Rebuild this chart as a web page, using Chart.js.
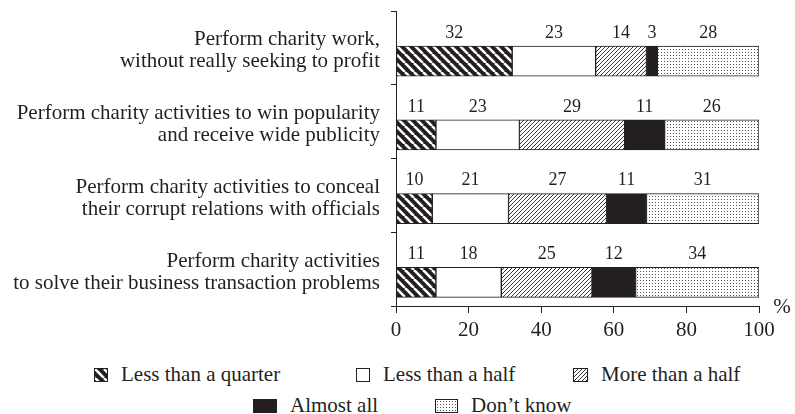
<!DOCTYPE html>
<html>
<head>
<meta charset="utf-8">
<script src="https://cdn.jsdelivr.net/npm/chart.js@4.4.1/dist/chart.umd.min.js"></script>
<style>
  html, body { margin: 0; padding: 0; background: #fff; }
  #wrap { position: relative; width: 795px; height: 414px; overflow: hidden; }
  #chart-box { position: absolute; left: 0; top: 0; width: 795px; height: 350px; }
  .legend__item {
    position: absolute; display: flex; align-items: center; height: 21px; line-height: 21px;
    font: 21px 'Liberation Serif', 'Times New Roman', serif; color: #231f20; white-space: nowrap;
  }
  .legend__item canvas { display: block; border: 1px solid #231f20; margin-right: 13px; }
</style>
</head>
<body>
<div id="wrap">
  <div id="chart-box"><canvas id="chart"></canvas></div>
  <div id="legend"></div>
</div>
<script>
const categories = [
  ['Perform charity work,', 'without really seeking to profit'],
  ['Perform charity activities to win popularity', 'and receive wide publicity'],
  ['Perform charity activities to conceal', 'their corrupt relations with officials'],
  ['Perform charity activities', 'to solve their business transaction problems']
];
const seriesNames = ['Less than a quarter', 'Less than a half', 'More than a half', 'Almost all', 'Don\u2019t know'];
const lessThanQuarter = [32, 11, 10, 11];
const lessThanHalf = [23, 23, 21, 18];
const moreThanHalf = [14, 29, 27, 25];
const almostAll = [3, 11, 11, 12];
const dontKnow = [28, 26, 31, 34];
const xTicks = [0, 20, 40, 60, 80, 100];

const seriesValues = [lessThanQuarter, lessThanHalf, moreThanHalf, almostAll, dontKnow];
const INK = '#231f20';
const FONT = "'Liberation Serif', 'Times New Roman', serif";

// bars sit in the lower part of each band, so the y scale starts a bit above row 0
const firstRow = -0.68;

// small tiles for the black & white fills
const tiles = {
  stripes(g, s) {
    g.fillStyle = INK; g.fillRect(0, 0, s, s);
    g.strokeStyle = '#fff'; g.lineWidth = 2.6;
    for (const o of [-s, 0, s]) { g.beginPath(); g.moveTo(o, 0); g.lineTo(o + s, s); g.stroke(); }
  },
  hatch(g, s) {
    g.fillStyle = '#fff'; g.fillRect(0, 0, s, s);
    g.strokeStyle = INK; g.lineWidth = 0.9;
    for (const o of [-s, 0, s]) { g.beginPath(); g.moveTo(o, s); g.lineTo(o + s, 0); g.stroke(); }
  },
  dots(g, s) {
    g.fillStyle = '#fff'; g.fillRect(0, 0, s, s);
    g.fillStyle = '#555'; g.fillRect(1, 1, 1, 1);
  }
};

function pattern(ctx, size, draw) {
  const c = document.createElement('canvas');
  c.width = size; c.height = size;
  draw(c.getContext('2d'), size);
  return ctx.createPattern(c, 'repeat');
}

const seriesFill = [
  g => pattern(g, 9, tiles.stripes),
  () => '#ffffff',
  g => pattern(g, 4, tiles.hatch),
  () => INK,
  g => pattern(g, 3, tiles.dots)
];

const valueLabels = {
  id: 'valueLabels',
  afterDatasetsDraw(chart) {
    const ctx = chart.ctx;
    ctx.save();
    ctx.font = `18px ${FONT}`;
    ctx.fillStyle = INK;
    ctx.textAlign = 'center';
    ctx.textBaseline = 'middle';
    chart.data.datasets.forEach((ds, d) => {
      chart.getDatasetMeta(d).data.forEach((bar, i) => {
        const { x, y, base, height } = bar.getProps(['x', 'y', 'base', 'height'], true);
        ctx.fillText(String(seriesValues[d][i]), (x + base) / 2, y - height / 2 - 13);
      });
    });
    // unit at the end of the x axis
    const xs = chart.scales.x;
    ctx.font = `21px ${FONT}`;
    ctx.fillText('%', xs.right + 23, xs.top + 1);
    ctx.restore();
  }
};

const canvas = document.getElementById('chart');
const ctx = canvas.getContext('2d');

new Chart(canvas, {
  type: 'bar',
  data: {
    datasets: seriesNames.map((name, s) => ({
      label: name,
      data: seriesValues[s].map((v, i) => ({ x: v, y: i })),
      backgroundColor: seriesFill[s](ctx),
      borderColor: INK,
      borderWidth: 1,
      borderSkipped: false,
      barThickness: 30
    }))
  },
  options: {
    indexAxis: 'y',
    responsive: true,
    maintainAspectRatio: false,
    animation: false,
    layout: { padding: { top: 11, right: 36, left: 0, bottom: 0 } },
    plugins: { legend: { display: false }, tooltip: { enabled: false } },
    scales: {
      x: {
        type: 'linear', min: 0, max: 100, stacked: true,
        afterBuildTicks: s => { s.ticks = xTicks.map(v => ({ value: v })); },
        ticks: { color: INK, font: { family: FONT, size: 21 }, padding: 5, maxRotation: 0 },
        grid: { drawOnChartArea: false, tickLength: 7, tickColor: INK, tickWidth: 1 },
        border: { color: INK, width: 1 },
        afterFit: s => { s.height = 44; }
      },
      y: {
        type: 'linear', position: 'left', reverse: true, stacked: true, offset: false,
        min: firstRow, max: firstRow + categories.length,
        afterBuildTicks: s => {
          s.ticks = categories.concat([null]).map((_, k) => ({ value: firstRow + k }));
        },
        ticks: { display: false },
        grid: { offset: false, drawOnChartArea: false, tickLength: 5, tickColor: INK, tickWidth: 1 },
        border: { color: INK, width: 1 }
      },
      yLabels: {
        type: 'category', axis: 'y', position: 'left', weight: 1,
        labels: categories, offset: true,
        grid: { display: false, drawTicks: false },
        border: { display: false },
        ticks: {
          color: INK, font: { family: FONT, size: 21, lineHeight: 1.05 },
          padding: 11, labelOffset: 3, autoSkip: false
        },
        afterFit: s => { s.width = 391; s.paddingTop = 0; s.paddingBottom = 0; }
      }
    }
  },
  plugins: [valueLabels]
});

// legend below the plot, two rows as in the original
const legendSlots = [[94, 364, 14], [356, 364, 14], [573, 364, 15], [253, 395, 24], [435, 395, 23]];
const legend = document.getElementById('legend');
seriesNames.forEach((name, s) => {
  const [left, top, w] = legendSlots[s];
  const item = document.createElement('div');
  item.className = 'legend__item';
  item.style.left = left + 'px';
  item.style.top = top + 'px';
  const sw = document.createElement('canvas');
  sw.width = w - 2; sw.height = 12;
  const g = sw.getContext('2d');
  g.fillStyle = seriesFill[s](g);
  g.fillRect(0, 0, sw.width, sw.height);
  const label = document.createElement('span');
  label.textContent = name;
  item.append(sw, label);
  legend.append(item);
});
</script>
</body>
</html>
